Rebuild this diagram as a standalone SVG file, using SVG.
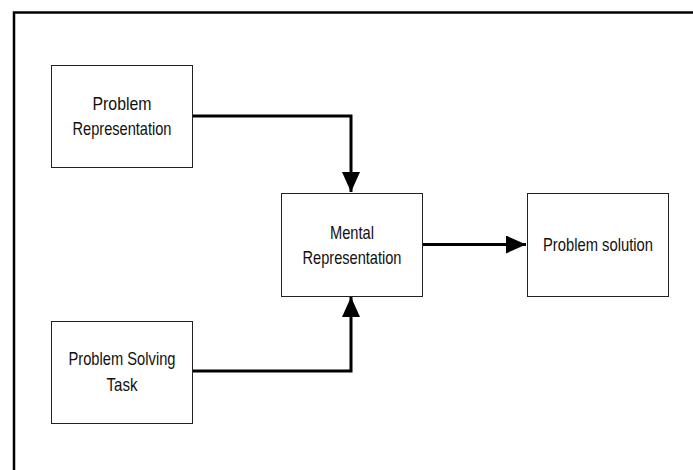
<svg xmlns="http://www.w3.org/2000/svg" width="693" height="470" viewBox="0 0 693 470">
<style>
.box{fill:#fff;stroke:#222;stroke-width:1}
.t{font-family:"Liberation Sans",Arial,sans-serif;font-size:19px;fill:#111;text-anchor:middle}
.c{fill:none;stroke:#000;stroke-width:3}
.frame{fill:none;stroke:#000;stroke-width:2.5}
</style>
<defs>
<marker id="ah" viewBox="0 0 20 18" refX="20" refY="9" markerWidth="20" markerHeight="18" markerUnits="userSpaceOnUse" orient="auto">
<path d="M0,0 L20,9 L0,18 Z" fill="#000"/>
</marker>
</defs>
<rect width="693" height="470" fill="#fff"/>
<path class="frame" d="M14,470 L14,12.5 L693,12.5"/>
<g id="connectors">
<path class="c" d="M192,116 L351,116 L351,192" marker-end="url(#ah)"/>
<path class="c" d="M192,371 L351,371 L351,297" marker-end="url(#ah)"/>
<path class="c" d="M422,244.5 L526,244.5" marker-end="url(#ah)"/>
</g>
<g id="problem-representation">
<rect class="box" x="51.5" y="65.5" width="141" height="102"/>
<text class="t" x="122" y="110" textLength="59" lengthAdjust="spacingAndGlyphs">Problem</text>
<text class="t" x="122" y="135" textLength="99" lengthAdjust="spacingAndGlyphs">Representation</text>
</g>
<g id="mental-representation">
<rect class="box" x="281.5" y="193.5" width="141" height="103"/>
<text class="t" x="352" y="239" textLength="44" lengthAdjust="spacingAndGlyphs">Mental</text>
<text class="t" x="352" y="264" textLength="99" lengthAdjust="spacingAndGlyphs">Representation</text>
</g>
<g id="problem-solution">
<rect class="box" x="527.5" y="193.5" width="141" height="103"/>
<text class="t" x="598" y="251" textLength="110" lengthAdjust="spacingAndGlyphs">Problem solution</text>
</g>
<g id="problem-solving-task">
<rect class="box" x="51.5" y="321.5" width="141" height="102"/>
<text class="t" x="122" y="365" textLength="107" lengthAdjust="spacingAndGlyphs">Problem Solving</text>
<text class="t" x="122" y="391" textLength="31" lengthAdjust="spacingAndGlyphs">Task</text>
</g>
</svg>
